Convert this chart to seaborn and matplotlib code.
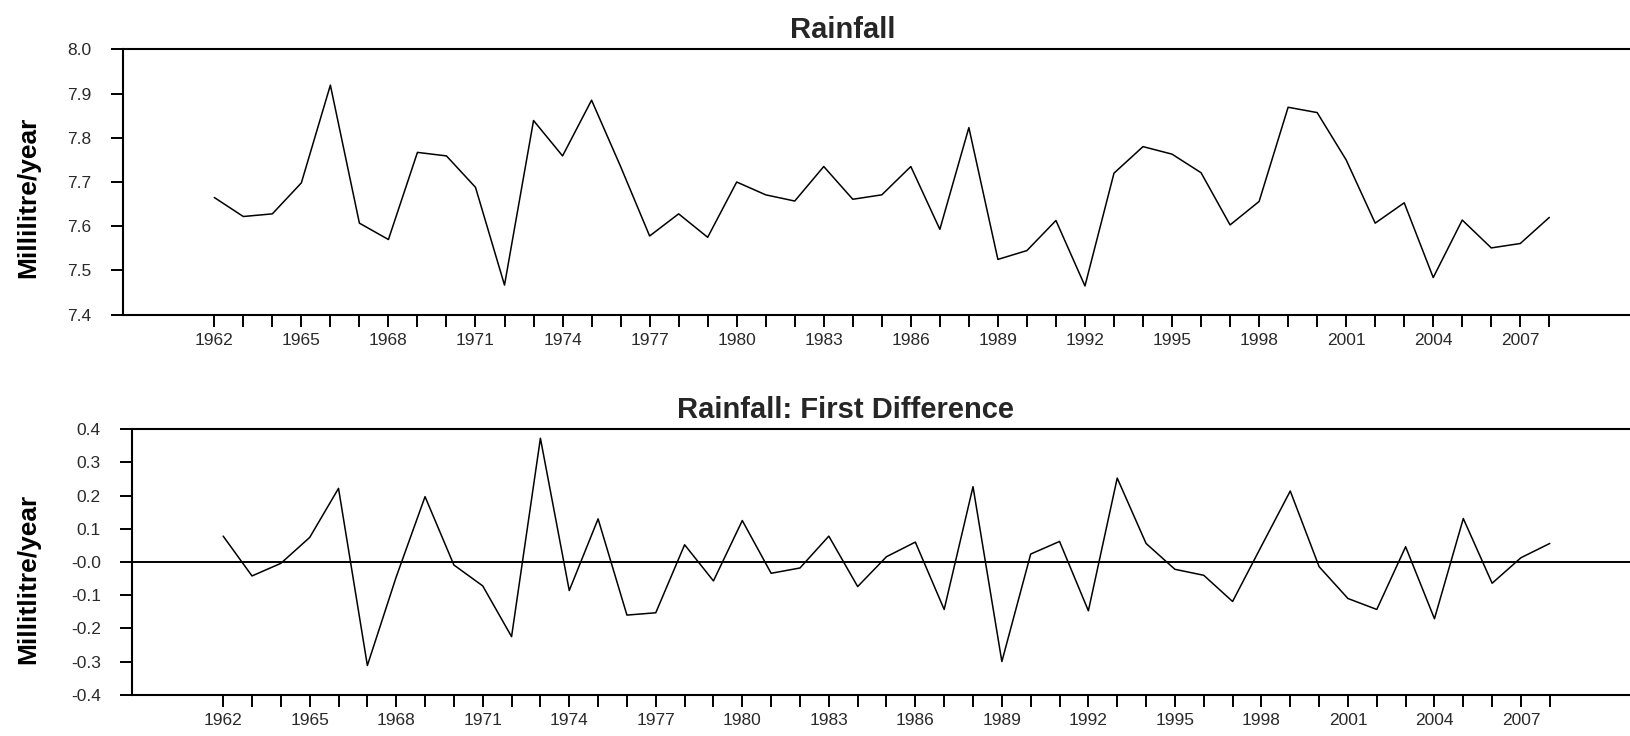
import matplotlib
matplotlib.use("Agg")
import matplotlib.pyplot as plt
import pandas as pd
import seaborn as sns

# Annual series, 1962-2008
years = list(range(1962, 2009))
rainfall = [
    7.665, 7.622, 7.628, 7.698, 7.919, 7.607, 7.570, 7.767, 7.759, 7.688,
    7.467, 7.839, 7.759, 7.885, 7.735, 7.578, 7.628, 7.575, 7.700, 7.671,
    7.657, 7.735, 7.661, 7.671, 7.735, 7.593, 7.823, 7.525, 7.545, 7.613,
    7.465, 7.720, 7.780, 7.763, 7.721, 7.603, 7.656, 7.869, 7.857, 7.750,
    7.607, 7.653, 7.484, 7.614, 7.551, 7.561, 7.620,
]
rainfall_diff = [
    0.078, -0.042, -0.004, 0.074, 0.222, -0.312, -0.045, 0.197, -0.009, -0.072,
    -0.225, 0.373, -0.086, 0.130, -0.160, -0.153, 0.052, -0.057, 0.125, -0.034,
    -0.018, 0.078, -0.074, 0.016, 0.060, -0.143, 0.227, -0.300, 0.024, 0.062,
    -0.147, 0.253, 0.056, -0.022, -0.040, -0.119, 0.048, 0.214, -0.014, -0.110,
    -0.143, 0.046, -0.171, 0.131, -0.064, 0.013, 0.056,
]

label_years = list(range(1962, 2008, 3))
top_yticks = [7.4, 7.5, 7.6, 7.7, 7.8, 7.9, 8.0]
top_ylabels = ["7.4", "7.5", "7.6", "7.7", "7.8", "7.9", "8.0"]
bot_yticks = [-0.4, -0.3, -0.2, -0.1, 0.0, 0.1, 0.2, 0.3, 0.4]
bot_ylabels = ["-0.4", "-0.3", "-0.2", "-0.1", "-0.0", "0.1", "0.2", "0.3", "0.4"]

df = pd.DataFrame({"year": years, "rainfall": rainfall, "diff": rainfall_diff})

sns.set_theme(style="white")
plt.rcParams["font.family"] = ["Liberation Sans", "DejaVu Sans"]

fig = plt.figure(figsize=(16.3, 7.36), dpi=100)
ax_top = fig.add_axes([0.0752, 0.5724, 0.9248, 0.3606])
ax_bot = fig.add_axes([0.0810, 0.0561, 0.9190, 0.3606])

sns.lineplot(data=df, x="year", y="rainfall", ax=ax_top, color="black", linewidth=1.1)
sns.lineplot(data=df, x="year", y="diff", ax=ax_bot, color="black", linewidth=1.1)
ax_bot.axhline(0, color="black", linewidth=1.4, zorder=1)

xtick_labels = [str(y) if y in label_years else "" for y in years]

panels = [
    (ax_top, "Rainfall", (7.4, 8.0), top_yticks, top_ylabels, 0.478),
    (ax_bot, "Rainfall: First Difference", (-0.4, 0.4), bot_yticks, bot_ylabels, 0.476),
]
for ax, title, ylim, yt, yl, tx in panels:
    ax.set_xlim(1958.84, 2010.78)
    ax.set_ylim(*ylim)
    ax.set_xticks(years)
    ax.set_xticklabels(xtick_labels)
    ax.set_yticks(yt)
    ax.set_yticklabels(yl)
    ax.set_xlabel("")
    ax.set_ylabel("")
    ax.set_title(title, fontsize=21, fontweight="bold", x=tx, pad=8)
    for side in ("left", "top", "bottom"):
        ax.spines[side].set_visible(True)
        ax.spines[side].set_color("black")
        ax.spines[side].set_linewidth(1.5)
    ax.spines["right"].set_visible(False)
    ax.tick_params(axis="both", which="major", direction="out", length=8.5, width=1.4,
                   color="black", labelcolor="#2a2a2a", labelsize=12.5,
                   bottom=True, left=True, top=False, right=False)
    ax.tick_params(axis="y", pad=14)
    ax.tick_params(axis="x", pad=5)

fig.text(0.0176, 0.7323, "Millilitre/year", rotation=90, ha="center", va="center",
         fontsize=19, fontweight="bold", color="black")
fig.text(0.0172, 0.2133, "Millitlitre/year", rotation=90, ha="center", va="center",
         fontsize=19, fontweight="bold", color="black")

fig.savefig("out.png", dpi=100, facecolor="white")
